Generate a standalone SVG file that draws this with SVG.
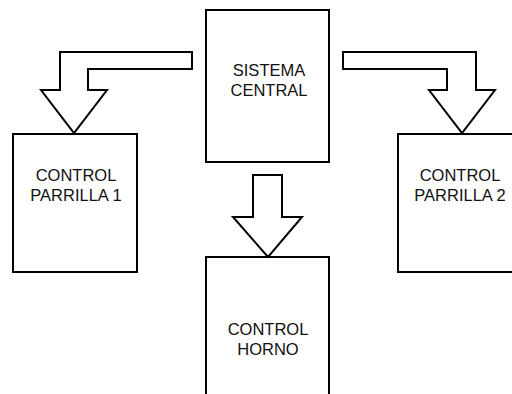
<svg xmlns="http://www.w3.org/2000/svg" width="512" height="394" viewBox="0 0 512 394">
<style>
.box{fill:#fff;stroke:#000;stroke-width:2}
.arr{fill:#fff;stroke:#000;stroke-width:2;stroke-linejoin:miter}
text{font-family:"Liberation Sans",Arial,sans-serif;font-size:16.5px;fill:#111;text-anchor:middle}
</style>
<rect width="512" height="394" fill="#fff"/>
<g id="central">
<rect class="box" x="206" y="10" width="123" height="152"/>
<text x="269" y="76">SISTEMA</text>
<text x="269" y="96">CENTRAL</text>
</g>
<g id="parrilla1">
<rect class="box" x="13" y="134" width="124" height="138"/>
<text x="76" y="181">CONTROL</text>
<text x="76" y="201">PARRILLA 1</text>
</g>
<g id="parrilla2">
<rect class="box" x="398" y="134" width="124" height="138"/>
<text x="460" y="181">CONTROL</text>
<text x="460" y="201">PARRILLA 2</text>
</g>
<g id="horno">
<rect class="box" x="206" y="257" width="123" height="150"/>
<text x="268" y="335">CONTROL</text>
<text x="268" y="355">HORNO</text>
</g>
<g id="connectors">
<polygon class="arr" points="192,52 60,52 60,90 41,90 74,133 107,90 88,90 88,69 192,69"/>
<polygon class="arr" points="343,52 476,52 476,90 495,90 462,133 429,90 447,90 447,69 343,69"/>
<polygon class="arr" points="253,175 282,175 282,217 302,217 268,257 233,217 253,217"/>
</g>
</svg>
